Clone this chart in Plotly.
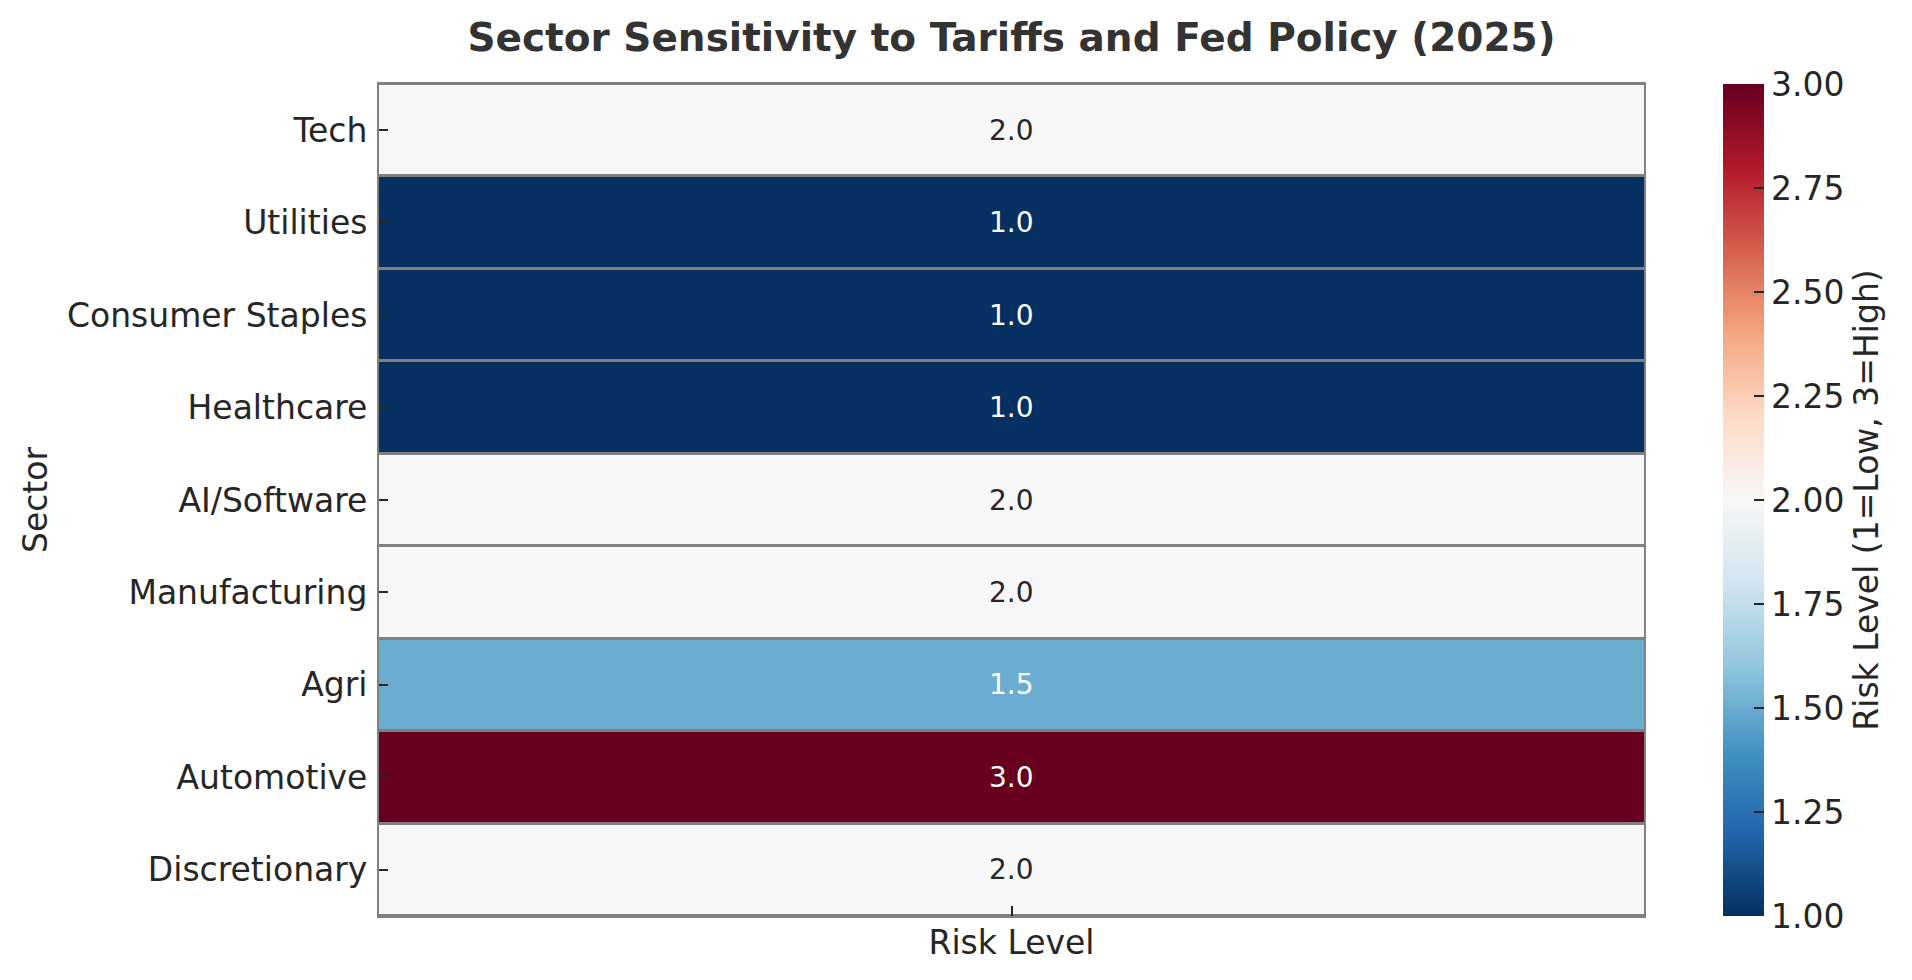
import plotly.graph_objects as go

# Data
sectors = ["Tech", "Utilities", "Consumer Staples", "Healthcare", "AI/Software",
           "Manufacturing", "Agri", "Automotive", "Discretionary"]
risk_level = [2.0, 1.0, 1.0, 1.0, 2.0, 2.0, 1.5, 3.0, 2.0]
column = ["Risk Level"]
cbar_ticks = [1.00, 1.25, 1.50, 1.75, 2.00, 2.25, 2.50, 2.75, 3.00]

# RdBu_r (ColorBrewer RdBu, reversed)
rdbu = [(103, 0, 31), (178, 24, 43), (214, 96, 77), (244, 165, 130), (253, 219, 199),
        (247, 247, 247), (209, 229, 240), (146, 197, 222), (67, 147, 195),
        (33, 102, 172), (5, 48, 97)]
rdbu_r = rdbu[::-1]
colorscale = [[i / (len(rdbu_r) - 1), "rgb(%d,%d,%d)" % c] for i, c in enumerate(rdbu_r)]
zmin, zmax = 1.0, 3.0

# page body has an 8px default margin, so the figure is drawn 8px smaller
W, H = 1904, 972


def cell_color(v):
    t = (v - zmin) / (zmax - zmin) * (len(rdbu_r) - 1)
    i = min(int(t), len(rdbu_r) - 2)
    f = t - i
    a, b = rdbu_r[i], rdbu_r[i + 1]
    return [a[k] + (b[k] - a[k]) * f for k in range(3)]


def luminance(rgb):
    out = []
    for c in rgb:
        c = c / 255
        out.append(c / 12.92 if c <= 0.03928 else ((c + 0.055) / 1.055) ** 2.4)
    return 0.2126 * out[0] + 0.7152 * out[1] + 0.0722 * out[2]


fig = go.Figure(go.Heatmap(
    z=[[v] for v in risk_level],
    x=column,
    y=sectors,
    zmin=zmin, zmax=zmax,
    colorscale=colorscale,
    ygap=3,
    hoverongaps=False,
    colorbar=dict(
        thickness=41, thicknessmode="pixels",
        len=1, lenmode="fraction", y=0.5, yanchor="middle", ypad=0,
        x=1.0625, xanchor="left", xpad=0,
        outlinewidth=0,
        tickvals=cbar_ticks, tickformat=".2f",
        ticks="inside", ticklen=10, tickwidth=2, tickcolor="#262626",
        tickfont=dict(size=33, color="#262626"),
        title=dict(text="Risk Level (1=Low, 3=High)", side="right",
                   font=dict(size=33, color="#262626")),
    ),
))

# cell annotations, colour picked from cell brightness like seaborn
for s, v in zip(sectors, risk_level):
    txt_color = "white" if luminance(cell_color(v)) < 0.408 else "#262626"
    fig.add_annotation(x=column[0], y=s, text=f"{v:.1f}", showarrow=False,
                       font=dict(size=28, color=txt_color))

fig.update_layout(
    width=W, height=H,
    margin=dict(l=371, r=268, t=76, b=64),
    paper_bgcolor="white",
    plot_bgcolor="#808080",
    font=dict(family="DejaVu Sans", color="#262626"),
    title=dict(text="<b>Sector Sensitivity to Tariffs and Fed Policy (2025)</b>",
               x=0.5, xref="paper", xanchor="center",
               y=1 - 29 / H, yref="container", yanchor="middle",
               font=dict(size=39, color="#333333")),
)
fig.update_xaxes(
    showgrid=False, zeroline=False,
    showline=True, mirror=True, linecolor="#808080", linewidth=2,
    ticks="inside", ticklen=10, tickwidth=2, tickcolor="#262626",
    tickfont=dict(size=33), ticklabelstandoff=-4,
)
fig.update_yaxes(
    autorange="reversed",
    showgrid=False, zeroline=False,
    showline=True, mirror=True, linecolor="#808080", linewidth=2,
    ticks="inside", ticklen=9, tickwidth=2, tickcolor="#262626",
    tickfont=dict(size=33), ticklabelstandoff=3,
    title=dict(text="Sector", font=dict(size=33), standoff=9),
)

fig.write_html("out.html")
